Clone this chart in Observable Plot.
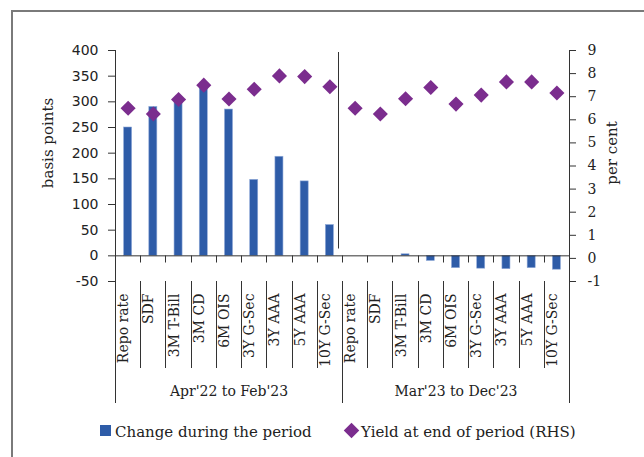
<!DOCTYPE html>
<html><head><meta charset="utf-8">
<script src="https://cdn.jsdelivr.net/npm/d3@7"></script>
<script src="https://cdn.jsdelivr.net/npm/@observablehq/plot@0.6"></script>
<style>
html,body{margin:0;padding:0;background:#fff;}
#wrap{position:relative;width:644px;height:457px;overflow:hidden;background:#fff;}
#frame{position:absolute;left:11px;top:10px;width:700px;height:520px;border-left:2px solid #7a7a7a;border-top:2px solid #7a7a7a;}
#chart{position:absolute;left:0;top:0;}
.lg{position:absolute;font-family:"DejaVu Serif";font-size:15px;line-height:18px;color:#222;white-space:nowrap;}
.sw{position:absolute;}
</style>
</head><body>
<div id="wrap">
  <div id="frame"></div>
  <div id="chart"></div>
  <div id="legend"></div>
</div>
<script>
const categories = ["Repo rate","SDF","3M T-Bill","3M CD","6M OIS","3Y G-Sec","3Y AAA","5Y AAA","10Y G-Sec"];
const periods = ["Apr'22 to Feb'23","Mar'23 to Dec'23"];
const changeP1 = [250, 290, 305, 330, 285, 148, 193, 145, 60];
const changeP2 = [0, 0, 3, -10, -24, -25, -26, -24, -27];
const yieldP1 = [6.5, 6.25, 6.88, 7.5, 6.9, 7.32, 7.9, 7.87, 7.43];
const yieldP2 = [6.5, 6.25, 6.91, 7.4, 6.68, 7.07, 7.64, 7.64, 7.16];
const leftTicks = [-50, 0, 50, 100, 150, 200, 250, 300, 350, 400];
const rightTicks = [-1, 0, 1, 2, 3, 4, 5, 6, 7, 8, 9];
const seriesNames = ["Change during the period", "Yield at end of period (RHS)"];

const BAR = "#2E5CA8", DOT = "#7B2D8E", INK = "#333";

// right axis (-1..9) shares the left axis span (-50..400)
const toLeft = r => -50 + (r + 1) * 45;
const fromLeft = v => (v + 50) / 45 - 1;

const changes = [changeP1, changeP2], yields = [yieldP1, yieldP2];
const rows = periods.flatMap((p, g) => categories.map((c, k) => ({
  period: p, cat: c, i: g * categories.length + k,
  change: changes[g][k], yld: yields[g][k]
})));
const n = rows.length;
const bounds = d3.range(n + 1);
const groupInfo = periods.map((p, g) => ({period: p, mid: g * categories.length + categories.length / 2}));

function decorations(index, scales, values, dims) {
  const {x, y} = scales;
  const top = dims.marginTop, bottom = dims.height - dims.marginBottom;
  const y0 = Math.round(y(0)) + 0.5;
  const labelBottom = bottom + 87, groupBottom = bottom + 122;
  const px = b => Math.round(x(b)) + 0.5;
  const g = d3.create("svg:g").attr("stroke", INK).attr("fill", "none").attr("stroke-width", 1);
  const line = (x1, y1, x2, y2) => g.append("line").attr("x1", x1).attr("y1", y1).attr("x2", x2).attr("y2", y2);
  const per = categories.length;
  for (const b of bounds) {
    line(px(b), y0, px(b), y0 + 7);
    if (b === 0 || b === n) line(px(b), top, px(b), groupBottom);
    else if (b % per === 0) line(px(b), bottom, px(b), groupBottom);
    else line(px(b), bottom, px(b), labelBottom);
  }
  for (let b = per; b < n; b += per) line(px(b) - 4, top + 2, px(b) - 4, y0 - 7);
  return g.node();
}

const chart = Plot.plot({
  width: 644, height: 420,
  marginLeft: 115, marginRight: 75, marginTop: 50, marginBottom: 139,
  x: {type: "linear", domain: [0, n], axis: null},
  y: {domain: [-50, 400], axis: null},
  style: {fontFamily: "DejaVu Serif", fontSize: "14px", background: "transparent", color: "#222", overflow: "visible"},
  marks: [
    Plot.rect(rows, {x1: "i", x2: d => d.i + 1, y1: () => 0, y2: "change", fill: BAR, stroke: "#8FA9D8", strokeWidth: 0.6, insetLeft: 8.6, insetRight: 8.6}),
    Plot.ruleY([0], {stroke: INK}),
    decorations,
    Plot.axisY({ticks: leftTicks, tickFormat: d => String(d), tickSize: 7, tickPadding: 10, stroke: INK,
      fontFamily: "DejaVu Sans", fontSize: 14, label: null}),
    Plot.axisY({anchor: "right", ticks: rightTicks.map(toLeft), tickFormat: v => String(Math.round(fromLeft(v))),
      tickSize: 6, tickPadding: 12, stroke: INK, fontFamily: "DejaVu Serif", fontSize: 14, label: null}),
    Plot.ruleX([0, n], {stroke: INK}),
    Plot.text(["basis points"], {frameAnchor: "left", text: d => d, rotate: -90, textAnchor: "middle", dx: -67, dy: -23, fontSize: 15}),
    Plot.text(["per cent"], {frameAnchor: "right", text: d => d, rotate: -90, textAnchor: "middle", dx: 43, dy: -13, fontSize: 15}),
    Plot.text(rows, {x: d => d.i + 0.5, text: "cat", frameAnchor: "bottom", rotate: -90, textAnchor: "end", dy: 12, fontSize: 14}),
    Plot.text(groupInfo, {x: "mid", text: "period", frameAnchor: "bottom", dy: 114, fontSize: 14}),
    Plot.dot(rows, {x: d => d.i + 0.5, y: d => toLeft(d.yld), symbol: "diamond2", r: 6.8, fill: DOT, stroke: "none"})
  ]
});
document.getElementById("chart").appendChild(chart);

// legend
const lg = document.getElementById("legend");
lg.innerHTML =
  `<div class="sw" style="left:100px;top:425px;width:11px;height:11px;background:${BAR}"></div>` +
  `<div class="lg" style="left:115px;top:423px">${seriesNames[0]}</div>` +
  `<div class="sw" style="left:346px;top:425px;width:11px;height:11px;background:${DOT};transform:rotate(45deg)"></div>` +
  `<div class="lg" style="left:361px;top:423px">${seriesNames[1]}</div>`;
</script>
</body></html>
